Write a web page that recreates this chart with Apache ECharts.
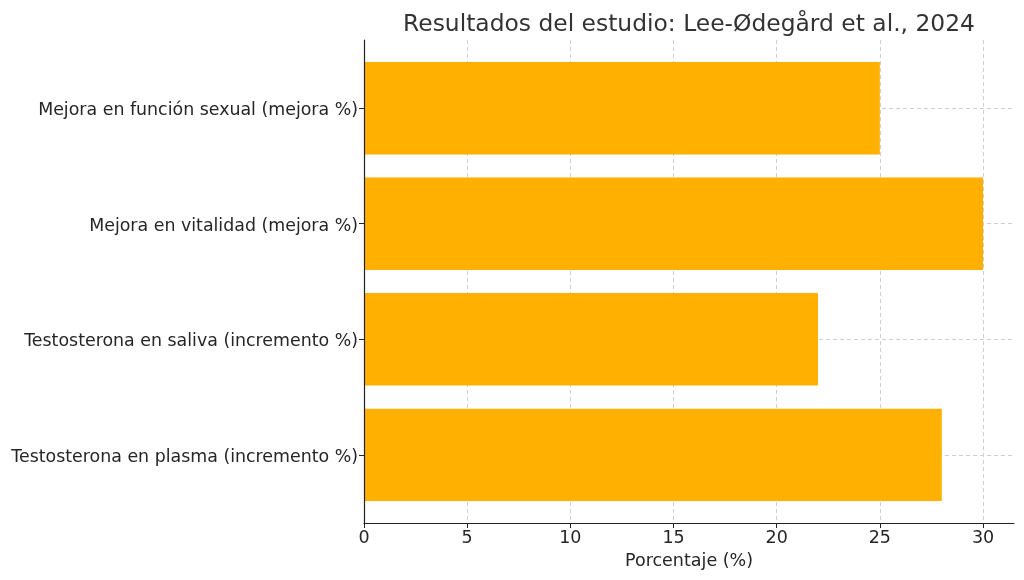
<!DOCTYPE html>
<html>
<head>
<meta charset="utf-8">
<script src="https://cdn.jsdelivr.net/npm/echarts@6/dist/echarts.min.js"></script>
<style>html,body{margin:0;padding:0;background:#fff}#c{width:1024px;height:580px}</style>
</head>
<body>
<div id="c"></div>
<script>
const categories = [
  'Testosterona en plasma (incremento %)',
  'Testosterona en saliva (incremento %)',
  'Mejora en vitalidad (mejora %)',
  'Mejora en función sexual (mejora %)'
];
const values = [28, 22, 30, 25];
const xMin = 0, xMax = 31.5, xInterval = 5;
const titleText = 'Resultados del estudio: Lee-Ødegård et al., 2024';
const xName = 'Porcentaje (%)';

const font = 'DejaVu Sans';
const labelColor = '#262626';
const spineColor = '#222';
const gridLine = { show: true, lineStyle: { color: '#cfcfcf', type: [4, 3], width: 1 } };

const chart = echarts.init(document.getElementById('c'), null, { renderer: 'canvas' });
chart.setOption({
  animation: false,
  backgroundColor: '#fff',
  textStyle: { fontFamily: font },
  title: {
    text: titleText,
    left: 684, textAlign: 'center', top: 8,
    textStyle: { fontFamily: font, fontSize: 23.4, fontWeight: 'normal', color: '#333' }
  },
  grid: [
    { left: 364, right: 10, top: 40, bottom: 57 },
    { left: 364, right: 10, top: 50.4, bottom: 67.4 }
  ],
  xAxis: [
    {
      type: 'value', gridIndex: 0, min: xMin, max: xMax, interval: xInterval, z: 10,
      axisLine: { show: true, lineStyle: { color: spineColor, width: 1.2 } },
      axisTick: { show: true, length: 5, lineStyle: { color: spineColor } },
      axisLabel: { show: true, margin: 6, fontSize: 17.5, color: labelColor, showMaxLabel: false },
      splitLine: { show: false },
      name: xName, nameLocation: 'middle', nameGap: 29,
      nameTextStyle: { fontSize: 17.5, color: labelColor }
    },
    {
      type: 'value', gridIndex: 0, min: xMin, max: xMax, interval: xInterval, z: 0,
      axisLine: { show: false }, axisTick: { show: false }, axisLabel: { show: false },
      splitLine: Object.assign({ showMaxLine: false, showMinLine: false }, gridLine)
    },
    {
      type: 'value', gridIndex: 1, min: xMin, max: xMax, show: false
    }
  ],
  yAxis: [
    {
      type: 'value', gridIndex: 0, z: 10,
      axisLine: { show: true, lineStyle: { color: spineColor, width: 1.2 } },
      axisTick: { show: false }, axisLabel: { show: false }, splitLine: { show: false }
    },
    {
      type: 'category', gridIndex: 1, data: categories,
      axisLine: { show: false },
      axisTick: { show: true, alignWithLabel: true, length: 5, lineStyle: { color: spineColor } },
      axisLabel: { margin: 6, fontSize: 17.4, color: labelColor, verticalAlign: 'top', lineHeight: 5 },
      splitLine: Object.assign({ alignWithLabel: true }, gridLine)
    }
  ],
  series: [{
    type: 'bar', xAxisIndex: 2, yAxisIndex: 1,
    data: values, barWidth: 92.4,
    itemStyle: { color: '#FFB000' }
  }]
});
</script>
</body>
</html>
